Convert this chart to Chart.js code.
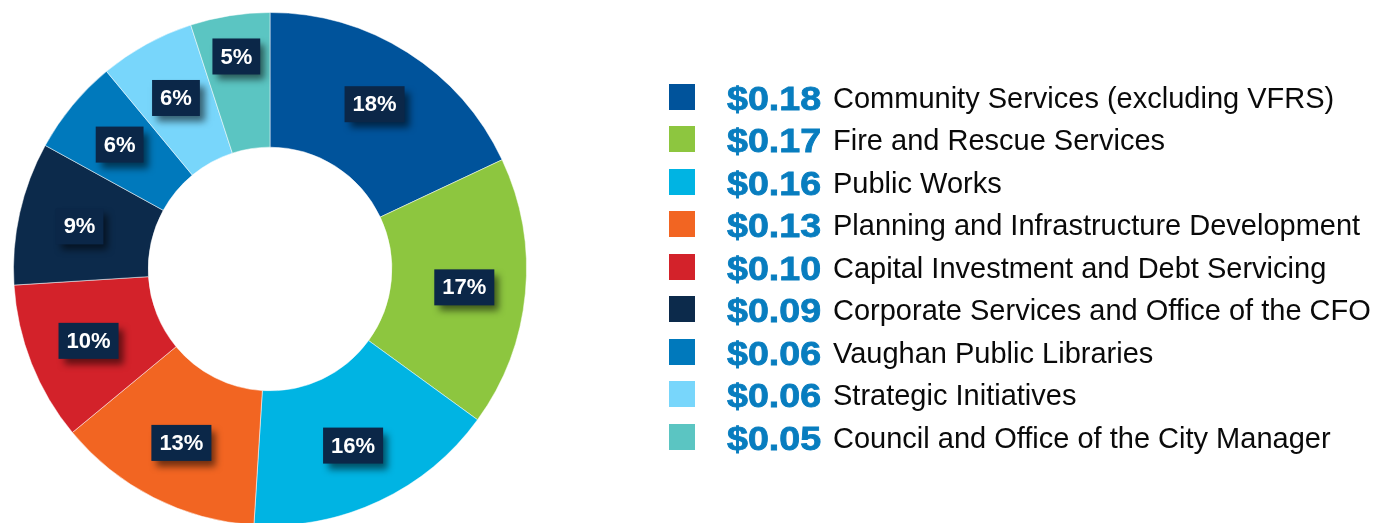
<!DOCTYPE html>
<html><head><meta charset="utf-8">
<script src="https://cdn.jsdelivr.net/npm/chart.js@4"></script>
<style>
html,body{margin:0;padding:0;background:#fff;overflow:hidden;width:1387px;height:523px;}
#wrap{position:relative;width:1387px;height:530px;}
#c{position:absolute;left:0;top:0;}
#legend{position:absolute;left:0;top:0;width:1387px;height:523px;font-family:"Liberation Sans",Arial,sans-serif;}
.row{position:absolute;left:669px;height:43px;white-space:nowrap;}
.sw{position:absolute;left:0;top:7px;width:26px;height:26px;}
.val{position:absolute;left:58px;top:0;line-height:43px;color:#087dbf;font-weight:bold;font-size:33px;-webkit-text-stroke:0.8px #087dbf;transform:scaleX(1.14);transform-origin:left center;}
.lab{position:absolute;left:164px;top:0;line-height:43px;color:#0a0a0a;font-size:29px;}
</style></head>
<body><div id="wrap"><canvas id="c" width="1387" height="530"></canvas><div id="legend"></div></div>
<script>
const categories = ["Community Services (excluding VFRS)","Fire and Rescue Services","Public Works","Planning and Infrastructure Development","Capital Investment and Debt Servicing","Corporate Services and Office of the CFO","Vaughan Public Libraries","Strategic Initiatives","Council and Office of the City Manager"];
const dollarValues = ["$0.18","$0.17","$0.16","$0.13","$0.10","$0.09","$0.06","$0.06","$0.05"];
const percentValues = [18,17,16,13,10,9,6,6,5];
const sliceColors = ["#00539b","#8dc63f","#00b4e3","#f26522","#d3222a","#0c2a4b","#0079bc","#78d6fb","#5bc5c2"];

const leg = document.getElementById('legend');
categories.forEach((c,i)=>{
  const r = document.createElement('div');
  r.className='row';
  r.style.top = (76.5 + i*42.5) + 'px';
  r.innerHTML = '<div class="sw" style="background:'+sliceColors[i]+'"></div><span class="val">'+dollarValues[i]+'</span><span class="lab">'+c+'</span>';
  leg.appendChild(r);
});

const labelPlugin = {
  id:'boxLabels',
  afterDatasetsDraw(chart){
    const ctx = chart.ctx;
    const meta = chart.getDatasetMeta(0);
    ctx.save();
    ctx.font = 'bold 22px "Liberation Sans", Arial, sans-serif';
    ctx.textAlign='center'; ctx.textBaseline='middle';
    meta.data.forEach((arc,i)=>{
      const p = arc.getProps(['x','y','startAngle','endAngle','innerRadius','outerRadius'],true);
      const a = (p.startAngle+p.endAngle)/2;
      const r = (p.innerRadius+p.outerRadius)/2 + 6 + (percentValues[i] < 6 ? 20 : 0);
      const x = p.x + Math.cos(a)*r, y = p.y + Math.sin(a)*r;
      const t = percentValues[i] + '%';
      const w = ctx.measureText(t).width + 16, h = 36;
      ctx.save();
      ctx.shadowColor='rgba(0,0,0,0.55)'; ctx.shadowBlur=7; ctx.shadowOffsetX=5; ctx.shadowOffsetY=6;
      ctx.fillStyle='#0b2748';
      ctx.fillRect(x-w/2,y-h/2,w,h);
      ctx.restore();
      ctx.fillStyle='#fff';
      ctx.fillText(t,x,y+1);
    });
    ctx.restore();
  }
};

new Chart(document.getElementById('c'),{
  type:'doughnut',
  data:{labels:categories,datasets:[{data:percentValues,backgroundColor:sliceColors,borderColor:'rgba(255,255,255,0.5)',borderWidth:1}]},
  options:{
    responsive:false,animation:false,
    cutout:'47.5%',
    layout:{padding:{left:12,right:859,top:12,bottom:4}},
    plugins:{legend:{display:false},tooltip:{enabled:false}}
  },
  plugins:[labelPlugin]
});
</script></body></html>
